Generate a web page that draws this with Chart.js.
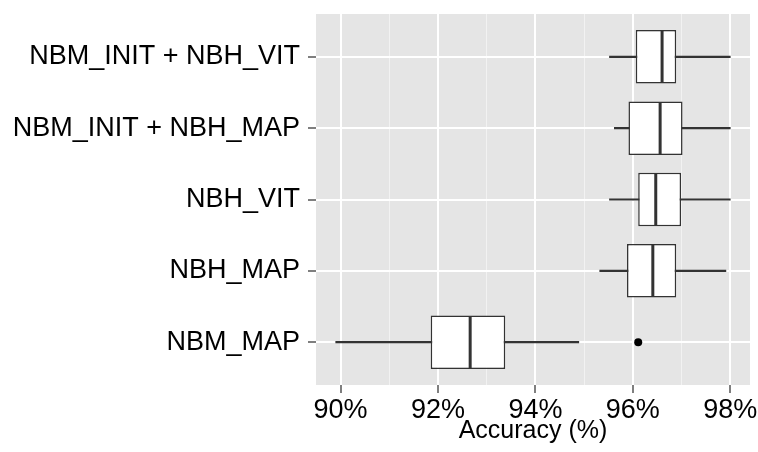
<!DOCTYPE html>
<html>
<head>
<meta charset="utf-8">
<script src="https://cdn.jsdelivr.net/npm/chart.js@4"></script>
<style>
html, body { margin: 0; padding: 0; background: #ffffff; }
</style>
</head>
<body>
<canvas id="accuracy_plot" width="758" height="452"></canvas>
<script>
// categories, top to bottom
const categories = [
    "NBM_INIT + NBH_VIT",
    "NBM_INIT + NBH_MAP",
    "NBH_VIT",
    "NBH_MAP",
    "NBM_MAP"
];
// box plot statistics, accuracy in %
const whiskerLow  = [95.52, 95.62, 95.52, 95.32, 89.90];
const q1          = [96.06, 95.91, 96.11, 95.88, 91.85];
const median      = [96.60, 96.56, 96.47, 96.41, 92.66];
const q3          = [96.89, 97.02, 96.99, 96.89, 93.38];
const whiskerHigh = [98.00, 98.00, 98.00, 97.91, 94.89];
// outliers: category index and value
const outlierCat   = [4];
const outlierValue = [96.11];
// x axis ticks
const majorTicks = [90, 92, 94, 96, 98];
const minorTicks = [91, 93, 95, 97];

const FONT = "'Liberation Sans', Arial, Helvetica, sans-serif";

const panelBg = {
    id: "panelBg",
    beforeDraw(chart) {
        const a = chart.chartArea;
        const ctx = chart.ctx;
        ctx.save();
        ctx.fillStyle = "#E5E5E5";
        ctx.fillRect(a.left, a.top, a.right - a.left, a.bottom - a.top);
        ctx.restore();
    }
};

const isMajor = c => !c.tick || majorTicks.includes(c.tick.value);

new Chart(document.getElementById("accuracy_plot"), {
    type: "bar",
    data: {
        datasets: [
            {
                type: "scatter",
                label: "median",
                indexAxis: "x",
                data: median.map((v, i) => ({ x: v, y: i })),
                pointStyle: "line",
                rotation: 90,
                radius: 26,
                borderColor: "#333333",
                borderWidth: 3,
                order: 0
            },
            {
                type: "scatter",
                label: "outliers",
                indexAxis: "x",
                data: outlierValue.map((v, i) => ({ x: v, y: outlierCat[i] })),
                pointStyle: "circle",
                radius: 4,
                backgroundColor: "#000000",
                borderWidth: 0,
                order: 1
            },
            {
                type: "bar",
                label: "box",
                indexAxis: "y",
                data: q1.map((v, i) => ({ x: [v, q3[i]], y: i })),
                backgroundColor: "#ffffff",
                borderColor: "#333333",
                borderWidth: 1.5,
                borderSkipped: false,
                barPercentage: 0.75,
                categoryPercentage: 1,
                grouped: false,
                order: 2
            },
            {
                type: "bar",
                label: "whisker",
                indexAxis: "y",
                data: whiskerLow.map((v, i) => ({ x: [v, whiskerHigh[i]], y: i })),
                backgroundColor: "#333333",
                borderWidth: 0,
                barThickness: 1.5,
                grouped: false,
                order: 3
            }
        ]
    },
    options: {
        responsive: false,
        animation: false,
        events: [],
        layout: { autoPadding: false, padding: { top: 14, right: 8, left: 0, bottom: 0 } },
        plugins: {
            legend: { display: false },
            tooltip: { enabled: false }
        },
        scales: {
            x: {
                type: "linear",
                position: "bottom",
                offset: false,
                min: 89.495,
                max: 98.405,
                afterBuildTicks: s => {
                    s.ticks = majorTicks.concat(minorTicks).sort((a, b) => a - b).map(v => ({ value: v }));
                },
                afterFit: s => {
                    s.height = 67;
                    s.paddingLeft = 0;
                    s.paddingRight = 0;
                },
                ticks: {
                    autoSkip: false,
                    maxRotation: 0,
                    minRotation: 0,
                    padding: 1,
                    color: "#000000",
                    font: { family: FONT, size: 27 },
                    callback: v => majorTicks.includes(v) ? v + "%" : ""
                },
                grid: {
                    offset: false,
                    color: c => isMajor(c) ? "#FFFFFF" : "#F2F2F2",
                    lineWidth: c => isMajor(c) ? 2 : 1,
                    tickColor: c => isMajor(c) ? "#7F7F7F" : "rgba(0,0,0,0)",
                    tickLength: 8,
                    tickWidth: 2
                },
                border: { display: false },
                title: {
                    display: true,
                    text: "Accuracy (%)",
                    color: "#000000",
                    font: { family: FONT, size: 25 },
                    padding: { top: 0, bottom: 6 }
                }
            },
            y: {
                type: "linear",
                reverse: true,
                offset: false,
                min: -0.6,
                max: 4.6,
                afterBuildTicks: s => {
                    s.ticks = categories.map((c, i) => ({ value: i }));
                },
                afterFit: s => {
                    s.width = 316;
                    s.paddingTop = 0;
                    s.paddingBottom = 0;
                },
                ticks: {
                    autoSkip: false,
                    padding: 8,
                    color: "#000000",
                    font: { family: FONT, size: 27 },
                    callback: v => categories[v]
                },
                grid: {
                    offset: false,
                    color: "#FFFFFF",
                    lineWidth: 2,
                    tickColor: "#7F7F7F",
                    tickLength: 8,
                    tickWidth: 2
                },
                border: { display: false }
            }
        }
    },
    plugins: [panelBg]
});
</script>
</body>
</html>
